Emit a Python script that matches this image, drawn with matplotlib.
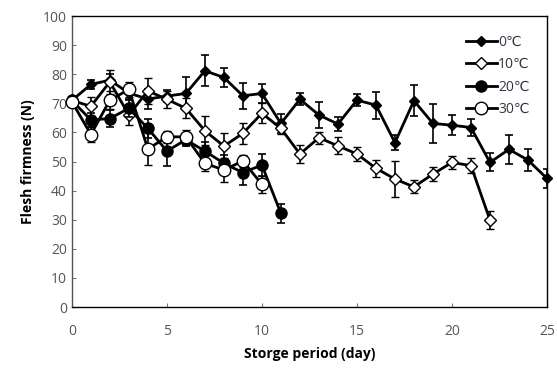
import matplotlib
matplotlib.use('Agg')
import matplotlib.pyplot as plt
from matplotlib.lines import Line2D

plt.rcParams['font.family'] = ['Open Sans', 'DejaVu Sans']

# storage days
days_0 = list(range(0, 26))
days_10 = list(range(0, 23))
days_20 = list(range(0, 12))
days_30 = list(range(0, 11))

# flesh firmness (N) and error bars
firm_0 = [71, 76.5, 78, 73.5, 71.5, 72.5, 73.4, 81.2, 78.9, 72.6, 73.4, 63.1, 71.4,
          66, 62.9, 71.1, 69.4, 56.5, 70.9, 63.1, 62.5, 61.7, 49.7, 54.2, 50.5, 44.2]
err_0 = [1, 1.5, 2, 2, 3.5, 2, 5.7, 5.3, 3.3, 4.5, 3.4, 3.4, 2,
         4.6, 2.3, 2, 4.6, 2.6, 5.3, 6.7, 3.4, 3, 3.1, 5.1, 3.8, 3.4]

firm_10 = [71, 69, 77.4, 66, 74.3, 71.4, 68.3, 60.6, 55.3, 59.7, 66.6, 61.4, 52.6,
           58.2, 55.4, 52.6, 47.7, 44, 41.3, 45.7, 49.7, 48.6, 29.9]
err_10 = [1, 3.2, 4.2, 3.4, 4.5, 3, 3.4, 5, 4.4, 3.7, 3.4, 2, 3.2,
          2, 2.9, 2.3, 2.9, 6.3, 2.2, 2.3, 2.1, 2.6, 3.2]

firm_20 = [71, 64.3, 64.8, 68.3, 61.4, 53.6, 57.5, 53.6, 49.4, 46.2, 48.8, 32.2]
err_20 = [1, 2.5, 3, 3, 3.4, 5.2, 2, 3, 3, 4.2, 3.8, 3.2]

firm_30 = [70.6, 59.3, 71.1, 74.8, 54.3, 58.5, 58.5, 49.4, 47.1, 50.2, 42.2]
err_30 = [1, 2.5, 3, 2.5, 5.5, 2, 2.5, 2.5, 4, 2, 3]

labels = ['0℃', '10℃', '20℃', '30℃']

fig = plt.figure(figsize=(5.57, 3.74), dpi=100)
ax = fig.add_axes([0.129, 0.179, 0.853, 0.778])

common = dict(color='black', linewidth=2, ecolor='black', elinewidth=1.2,
              capsize=3, capthick=1.2)

# marker styles per series
st_0 = dict(marker='D', markersize=5, markerfacecolor='black',
            markeredgecolor='black')
st_10 = dict(marker='D', markersize=6.5, markerfacecolor='white',
             markeredgecolor='black', markeredgewidth=1)
st_20 = dict(marker='o', markersize=8, markerfacecolor='black',
             markeredgecolor='black')
st_30 = dict(marker='o', markersize=9, markerfacecolor='white',
             markeredgecolor='black', markeredgewidth=1)

series = [(days_0, firm_0, err_0, st_0), (days_10, firm_10, err_10, st_10),
          (days_20, firm_20, err_20, st_20), (days_30, firm_30, err_30, st_30)]
for z, (x, y, e, st) in enumerate(series):
    cont = ax.errorbar(x, y, yerr=e, zorder=z + 2, **st, **common)
    cont[0].set_clip_on(False)

ax.set_xlim(0, 25)
ax.set_ylim(0, 100)
ax.set_xticks(range(0, 26, 5))
ax.set_yticks(range(0, 101, 10))
ax.tick_params(direction='in', length=3, color='#777777', labelcolor='#555555',
               labelsize=10)
ax.tick_params(axis='x', pad=12)

for s in ax.spines.values():
    s.set_color('black')
    s.set_linewidth(1)
ax.spines['left'].set_color('#555555')

ax.set_xlabel('Storge period (day)', fontweight='bold', fontsize=10, labelpad=6)
ax.set_ylabel('Flesh firmness (N)', fontweight='bold', fontsize=10, labelpad=6)

# legend without error bars
handles = [Line2D([], [], color='black', linewidth=2, **st)
           for st in (st_0, st_10, st_20, st_30)]
leg = ax.legend(handles, labels, loc='upper right', bbox_to_anchor=(0.99, 0.98),
                frameon=False, fontsize=10, labelspacing=0.55,
                handlelength=2.2, handletextpad=0.1)
for t in leg.get_texts():
    t.set_color('#333344')

fig.savefig('out.png', dpi=100)
